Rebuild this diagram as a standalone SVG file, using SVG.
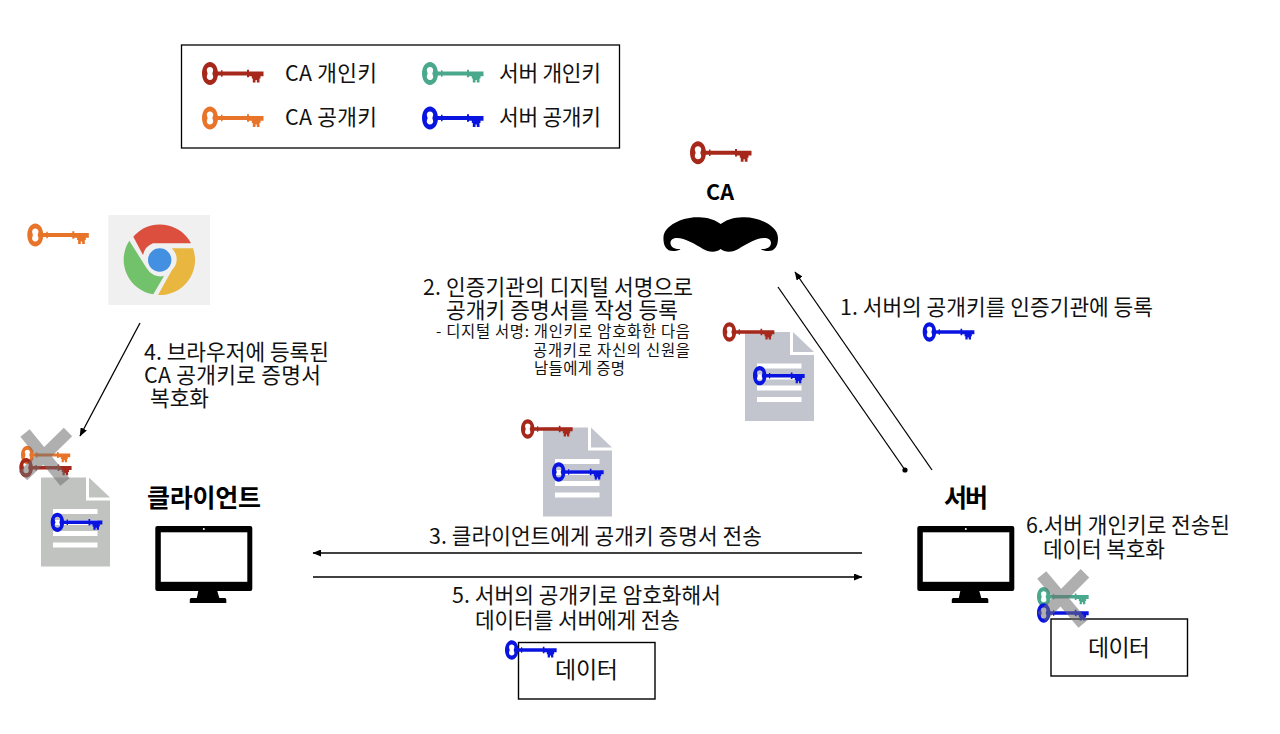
<svg xmlns="http://www.w3.org/2000/svg" width="1280" height="734" viewBox="0 0 1280 734">
<style>
text{font-family:"Noto Sans CJK KR","Noto Sans",sans-serif;fill:#111}
.t{font-size:21.4px}
.s{font-size:15.4px}
.b{font-size:25px;font-weight:700;fill:#000}
.ln{stroke:#000;stroke-width:1.3;fill:none}
.box{fill:#fff;stroke:#000;stroke-width:1.4}
.red{color:#a5281b}.org{color:#e8742a}.grn{color:#4aa88c}.blu{color:#0a14e0}
.x{stroke:#6e6e6e;stroke-opacity:.55;stroke-width:12;fill:none}
</style>
<defs>
<symbol id="key" overflow="visible">
<g fill="currentColor">
<path fill-rule="evenodd" d="M8 -11.500C12.500 -11.500 16 -6.500 16 0C16 6.500 12.500 11.500 8 11.500C3.500 11.500 0 6.500 0 0C0 -6.500 3.500 -11.500 8 -11.500ZM8 -6.500C6 -6.500 4.800 -5 4.800 -3.500C4.800 -2 5.600 -1 5.600 0C5.600 1 4.800 2 4.800 3.500C4.800 5 6 6.500 8 6.500C10 6.500 11.200 5 11.200 3.500C11.200 2 10.400 1 10.400 0C10.400 -1 11.200 -2 11.200 -3.500C11.200 -5 10 -6.500 8 -6.500Z"/>
<path d="M15 -2H19V-3.300H20.500V-2H45V-3.800H47V-2H61.500V2.700H58.500V5H57.500V9H54.800V6.500H53.500V9H50.800V5H49.800V2.700H47V3.800H45V2H20.500V3.300H19V2H15Z"/>
</g>
</symbol>
<marker id="ah" markerWidth="9" markerHeight="7" refX="8" refY="3.500" orient="auto" markerUnits="userSpaceOnUse"><path d="M0 0L8.500 3.500L0 7Z" fill="#000"/></marker>
<marker id="dot" markerWidth="6" markerHeight="6" refX="3" refY="3" markerUnits="userSpaceOnUse"><circle cx="3" cy="3" r="2.600" fill="#000"/></marker>
<g id="doc">
<path d="M0 0H45V23H69V89H0Z"/>
<path d="M48 0L69 20H48Z"/>
<g fill="#fff"><rect x="12" y="31.500" width="44.500" height="5"/><rect x="12" y="42.500" width="44.500" height="5"/><rect x="12" y="53.500" width="44.500" height="5"/><rect x="12" y="65" width="44.500" height="5"/></g>
</g>
<g id="mon">
<path fill="#000" d="M2 0H95Q97 0 97 2V63Q97 65 95 65H62L64 72H69.500Q71 72 71 73.500V77H34.500V73.500Q34.500 72 36 72H41.500L43 65H2Q0 65 0 63V2Q0 0 2 0Z"/>
<rect x="5.500" y="6.300" width="86.500" height="49.500" fill="#fff"/>
<circle cx="48.500" cy="3" r="1" fill="#fff"/>
</g>
</defs>

<g id="legend">
<rect x="181.500" y="45" width="438" height="103" fill="#fff" stroke="#000" stroke-width="1.300"/>
<use href="#key" class="red" transform="translate(202 73.500)"/>
<use href="#key" class="org" transform="translate(202 118)"/>
<use href="#key" class="grn" transform="translate(422 73.500)"/>
<use href="#key" class="blu" transform="translate(422 118)"/>
<text class="t" x="285" y="81" textLength="92">CA 개인키</text>
<text class="t" x="499" y="81" textLength="102">서버 개인키</text>
<text class="t" x="285" y="125" textLength="92">CA 공개키</text>
<text class="t" x="499" y="125" textLength="102">서버 공개키</text>
</g>

<g id="ca">
<use href="#key" class="red" transform="translate(690 152.700)"/>
<text x="720" y="200" text-anchor="middle" font-size="21.500" font-weight="700" style="fill:#000">CA</text>
<path fill="#000" d="M720.700 224C712 218 704 217.300 696.700 217.300C682 217.300 664 226 663.500 237C663 245 666 251 673 251C676 251 679 250.500 680.500 249C676 249.500 671 248 670.500 243.500C670 240 673 238 677 238C685 238 695 244 703 249C708 252 716 253 720.700 249C725.400 253 733.400 252 738.400 249C746.400 244 756.400 238 764.400 238C768.400 238 771.400 240 770.900 243.500C770.400 248 765.400 249.500 760.900 249C762.400 250.500 765.400 251 768.400 251C775.400 251 778.400 245 777.900 237C777.400 226 759.400 217.300 744.700 217.300C737.400 217.300 729.400 218 720.700 224Z"/>
</g>

<g id="browser">
<use href="#key" class="org" transform="translate(27.300 235)"/>
<rect x="108.300" y="215" width="101.700" height="90" fill="#f0f0f0"/>
<path fill="#dc4f3e" d="M133.300 236.700A35 35 0 0 1 191 243.300H153A16 16 0 0 0 143 255Z"/>
<path fill="#e9b63f" d="M171.700 248.300H193A35 35 0 0 1 158 295L172 270A14.500 14.500 0 0 0 171.700 248.300Z"/>
<path fill="#72c16b" d="M129.300 240.700L146.500 268A16 16 0 0 0 164 276L153.300 294.300A35 35 0 0 1 129.300 240.700Z"/>
<circle cx="159.700" cy="260" r="11.700" fill="#4390e2"/>
</g>

<g id="client-doc">
<use href="#doc" x="41" y="477.500" fill="#c1c3c1"/>
<use href="#key" class="blu" transform="translate(50.700 522.300) scale(.84)"/>
<use href="#key" class="org" transform="translate(21 455) scale(.8)"/>
<use href="#key" class="red" transform="translate(19.300 467.700) scale(.85)"/>
<path class="x" d="M25 433L65 482M68 432L23 476"/>
</g>

<g id="client">
<text class="b" x="147" y="507" textLength="114">클라이언트</text>
<use href="#mon" x="155.300" y="526"/>
</g>

<g id="server">
<text class="b" x="944" y="507" textLength="44">서버</text>
<use href="#mon" x="917.300" y="526"/>
</g>

<g id="doc-ca">
<use href="#doc" x="745" y="332" fill="#c3c5ce"/>
<use href="#key" class="red" transform="translate(722.700 332) scale(.84)"/>
<use href="#key" class="blu" transform="translate(753 375.700) scale(.84)"/>
</g>

<g id="doc-transfer">
<use href="#doc" x="543" y="427.500" fill="#c3c5ce"/>
<use href="#key" class="red" transform="translate(521 429) scale(.84)"/>
<use href="#key" class="blu" transform="translate(552 472) scale(.84)"/>
</g>

<g id="key-step1"><use href="#key" class="blu" transform="translate(922.700 332) scale(.84)"/></g>

<g id="data-client">
<rect class="box" x="518.500" y="642.500" width="136.500" height="56.500"/>
<use href="#key" class="blu" transform="translate(505 650) scale(.84)"/>
<text x="555" y="678" font-size="23" textLength="63">데이터</text>
</g>

<g id="data-server">
<rect class="box" x="1051" y="619" width="136.500" height="57"/>
<use href="#key" class="grn" transform="translate(1037 596.700) scale(.84)"/>
<use href="#key" class="blu" transform="translate(1037 613) scale(.84)"/>
<path class="x" d="M1041.700 575L1083 624M1085 573.300L1041.700 617"/>
<text x="1088" y="656" font-size="23" textLength="62">데이터</text>
</g>

<g id="connectors">
<path class="ln" marker-end="url(#ah)" d="M932 470L795 272"/>
<path class="ln" marker-end="url(#dot)" d="M778 287L905 470"/>
<path class="ln" marker-end="url(#ah)" d="M140 323L80 436"/>
<path class="ln" marker-end="url(#ah)" d="M862 553H313"/>
<path class="ln" marker-end="url(#ah)" d="M313 577H862"/>
</g>

<g id="labels">
<text class="t" x="840" y="315" textLength="313">1. 서버의 공개키를 인증기관에 등록</text>
<text class="t" x="423" y="295" textLength="270">2. 인증기관의 디지털 서명으로</text>
<text class="t" x="446" y="318" textLength="232">공개키 증명서를 작성 등록</text>
<text class="s" x="436" y="337" textLength="254">- 디지털 서명: 개인키로 암호화한 다음</text>
<text class="s" x="533" y="356" textLength="157">공개키로 자신의 신원을</text>
<text class="s" x="534" y="374" textLength="91">남들에게 증명</text>
<text class="t" x="144" y="360" textLength="185">4. 브라우저에 등록된</text>
<text class="t" x="144" y="383" textLength="177">CA 공개키로 증명서</text>
<text class="t" x="150" y="406">복호화</text>
<text class="t" x="1026" y="533" textLength="204">6.서버 개인키로 전송된</text>
<text class="t" x="1043" y="557" textLength="122">데이터 복호화</text>
<text class="t" x="429" y="544" textLength="333">3. 클라이언트에게 공개키 증명서 전송</text>
<text class="t" x="452" y="603" textLength="269">5. 서버의 공개키로 암호화해서</text>
<text class="t" x="475" y="628" textLength="205">데이터를 서버에게 전송</text>
</g>
</svg>
